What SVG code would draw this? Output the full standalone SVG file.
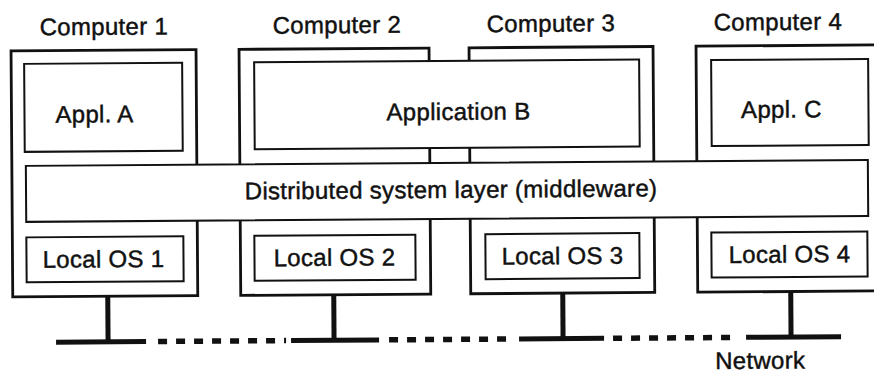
<svg xmlns="http://www.w3.org/2000/svg" width="874" height="374" viewBox="0 0 874 374">
  <style>
    .outer { fill: #fff; stroke: #111; stroke-width: 2.8; }
    .inner { fill: #fff; stroke: #111; stroke-width: 2; }
    .lbl { font-family: "Liberation Sans", Arial, Helvetica, sans-serif; font-size: 24px; letter-spacing: 0.3px; fill: #111; stroke: #111; stroke-width: 0.45; text-anchor: middle; }
    .net { stroke: #111; stroke-width: 5; fill: none; }
    .dash { stroke-dasharray: 9 9; stroke-width: 5.5; }
  </style>
  <rect x="0" y="0" width="874" height="374" fill="#fff"/>
  <g transform="rotate(-0.4 437 187)">
    <g id="computer1">
      <rect class="outer" x="12" y="48" width="185" height="246"/>
      <text class="lbl" x="105" y="32.5">Computer 1</text>
    </g>
    <g id="computer2">
      <rect class="outer" x="240" y="48" width="190" height="246"/>
      <text class="lbl" x="338" y="32.5">Computer 2</text>
    </g>
    <g id="computer3">
      <rect class="outer" x="470" y="48" width="184" height="246"/>
      <text class="lbl" x="552" y="32.5">Computer 3</text>
    </g>
    <g id="computer4">
      <rect class="outer" x="697" y="48" width="183" height="246"/>
      <text class="lbl" x="779" y="32.5">Computer 4</text>
    </g>
    <g id="applA">
      <rect class="inner" x="25" y="61" width="158" height="88"/>
      <text class="lbl" x="95" y="120">Appl. A</text>
    </g>
    <g id="applicationB">
      <rect class="inner" x="255" y="61" width="385" height="87"/>
      <text class="lbl" x="459" y="120">Application B</text>
    </g>
    <g id="applC">
      <rect class="inner" x="712" y="62" width="157" height="86"/>
      <text class="lbl" x="782" y="120">Appl. C</text>
    </g>
    <g id="middleware">
      <rect class="inner" x="26" y="163" width="842" height="56"/>
      <text class="lbl" x="451" y="198">Distributed system layer (middleware)</text>
    </g>
    <g id="localOS1">
      <rect class="inner" x="26" y="234.5" width="157" height="45"/>
      <text class="lbl" x="103" y="265">Local OS 1</text>
    </g>
    <g id="localOS2">
      <rect class="inner" x="254" y="234.5" width="161" height="45"/>
      <text class="lbl" x="334" y="265">Local OS 2</text>
    </g>
    <g id="localOS3">
      <rect class="inner" x="485" y="234.5" width="154" height="45"/>
      <text class="lbl" x="562" y="265">Local OS 3</text>
    </g>
    <g id="localOS4">
      <rect class="inner" x="711" y="234.5" width="156" height="45"/>
      <text class="lbl" x="789" y="265">Local OS 4</text>
    </g>
    <g id="network">
      <text class="lbl" x="759" y="371">Network</text>
    </g>
    <g id="connectors">
      <line class="net" x1="107" y1="294" x2="107" y2="339.5"/>
      <line class="net" x1="333" y1="294" x2="333" y2="339.5"/>
      <line class="net" x1="562" y1="294" x2="562" y2="339.5"/>
      <line class="net" x1="790" y1="294" x2="790" y2="339.5"/>
      <line class="net" x1="55" y1="339.5" x2="145" y2="339.5"/>
      <line class="net dash" x1="157" y1="339.5" x2="285" y2="339.5"/>
      <line class="net" x1="290" y1="339.5" x2="378" y2="339.5"/>
      <line class="net dash" x1="388" y1="339.5" x2="513" y2="339.5"/>
      <line class="net" x1="518" y1="339.5" x2="603" y2="339.5"/>
      <line class="net dash" x1="612" y1="339.5" x2="738" y2="339.5"/>
      <line class="net" x1="745" y1="339.5" x2="840" y2="339.5"/>
    </g>
  </g>
</svg>
